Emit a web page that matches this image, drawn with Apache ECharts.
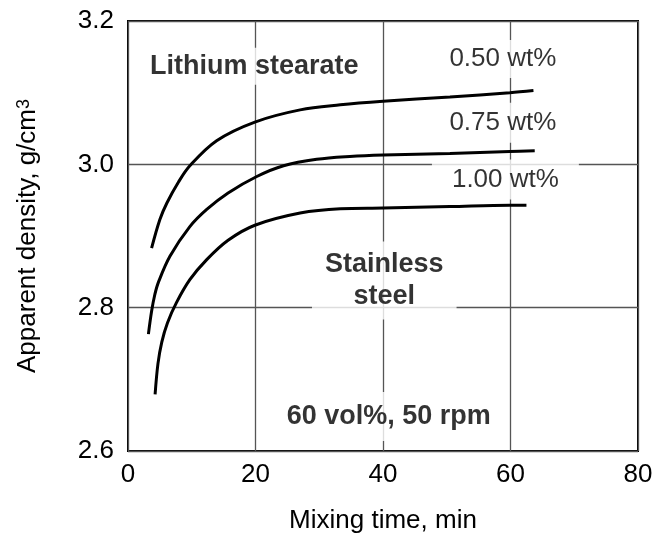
<!DOCTYPE html>
<html>
<head>
<meta charset="utf-8">
<script src="https://cdn.jsdelivr.net/npm/echarts@6/dist/echarts.min.js"></script>
<style>
  html, body { margin: 0; padding: 0; background: #fff; }
  #chart { width: 661px; height: 539px; }
</style>
</head>
<body>
<div id="chart"></div>
<script>
// mixing time (min) and apparent density (g/cm3)
const xTicks = [0, 20, 40, 60, 80];
const yTicks = [2.6, 2.8, 3.0, 3.2];

const t050 = [3.7, 5.0, 6.1, 7.9, 9.7, 13.9, 19.9, 27.0, 33.3, 40.0, 50.5, 59.9, 63.6];
const d050 = [2.883, 2.923, 2.946, 2.975, 2.998, 3.033, 3.059, 3.076, 3.083, 3.088, 3.094, 3.100, 3.103];

const t075 = [3.2, 3.7, 4.2, 4.75, 6.6, 9.7, 12.35, 15.7, 20.2, 24.4, 29.6, 34.8, 40.0, 50.5, 59.9, 63.8];
const d075 = [2.763, 2.795, 2.818, 2.835, 2.872, 2.913, 2.937, 2.960, 2.983, 2.998, 3.007, 3.011, 3.013, 3.015, 3.018, 3.019];

const t100 = [4.25, 4.7, 5.3, 6.2, 7.6, 9.7, 12.35, 15.7, 19.9, 27.0, 33.3, 40.0, 50.5, 59.9, 62.5];
const d100 = [2.679, 2.722, 2.752, 2.779, 2.807, 2.839, 2.867, 2.894, 2.915, 2.932, 2.938, 2.939, 2.941, 2.943, 2.943];

const seriesNames = ['0.50 wt%', '0.75 wt%', '1.00 wt%'];

function pairs(xs, ys) {
  return xs.map((x, i) => [x, ys[i]]);
}

// text notes on white boxes that cut the grid lines
const notes = [
  { value: [19.8, 3.137], text: 'Lithium stearate', bold: true, lh: 30, pad: [4, 10, 3, 10] },
  { value: [58.8, 3.147], text: seriesNames[0], bold: false, lh: 28, pad: [8, 14, 2, 14] },
  { value: [58.8, 3.058], text: seriesNames[1], bold: false, lh: 28, pad: [8, 14, 4, 14] },
  { value: [59.2, 2.979], text: seriesNames[2], bold: false, lh: 28, pad: [8, 20, 4, 20] },
  { value: [40.2, 2.838], text: 'Stainless\nsteel', bold: true, lh: 32, pad: [10, 13, 4, 13] },
  { value: [40.9, 2.648], text: '60 vol%, 50 rpm', bold: true, lh: 30, pad: [10, 8, 9, 8] }
];

const font = '"Liberation Sans", Arial, Helvetica, sans-serif';
const ink = '#000';

const chart = echarts.init(document.getElementById('chart'), null, { renderer: 'canvas' });

const curve = (name, xs, ys) => ({
  name: name,
  type: 'line',
  smooth: 0.35,
  symbol: 'none',
  z: 3,
  lineStyle: { color: '#000', width: 3 },
  data: pairs(xs, ys)
});

const option = {
  animation: false,
  backgroundColor: '#fff',
  grid: {
    left: 128, top: 21, right: 23, bottom: 87,
    show: true, borderColor: '#000', borderWidth: 2, backgroundColor: 'transparent'
  },
  xAxis: {
    type: 'value',
    min: xTicks[0], max: xTicks[xTicks.length - 1], interval: 20,
    name: 'Mixing time, min',
    nameLocation: 'middle',
    nameGap: 57,
    nameTextStyle: { fontFamily: font, fontSize: 26, color: ink },
    axisLine: { show: false },
    axisTick: { show: false },
    axisLabel: { fontFamily: font, fontSize: 26, color: ink, margin: 11 },
    splitLine: { show: true, lineStyle: { color: '#555', width: 1.3 } }
  },
  yAxis: {
    type: 'value',
    min: yTicks[0], max: yTicks[yTicks.length - 1], interval: 0.2,
    name: '{a|Apparent density, g/cm}{s|3}',
    nameLocation: 'middle',
    nameGap: 87,
    nameTextStyle: {
      fontFamily: font, fontSize: 26, color: ink,
      rich: {
        a: { fontFamily: font, fontSize: 26, color: ink },
        s: { fontFamily: font, fontSize: 18, color: ink, verticalAlign: 'top', padding: [0, 0, 8, 0] }
      }
    },
    axisLine: { show: false },
    axisTick: { show: false },
    axisLabel: {
      fontFamily: font, fontSize: 26, color: ink, margin: 14,
      formatter: v => v.toFixed(1)
    },
    splitLine: { show: true, lineStyle: { color: '#555', width: 1.3 } }
  },
  series: [
    {
      type: 'scatter',
      silent: true,
      symbolSize: 0,
      z: 2,
      data: notes.map(n => ({
        value: n.value,
        label: {
          show: true,
          position: 'inside',
          formatter: n.text,
          fontFamily: font,
          fontSize: n.bold ? 27 : 26,
          fontWeight: n.bold ? 'bold' : 'normal',
          lineHeight: n.lh,
          color: ink,
          align: 'center',
          verticalAlign: 'middle',
          backgroundColor: '#fff',
          padding: n.pad
        }
      }))
    },
    curve(seriesNames[0], t050, d050),
    curve(seriesNames[1], t075, d075),
    curve(seriesNames[2], t100, d100)
  ]
};

chart.setOption(option);
</script>
</body>
</html>
